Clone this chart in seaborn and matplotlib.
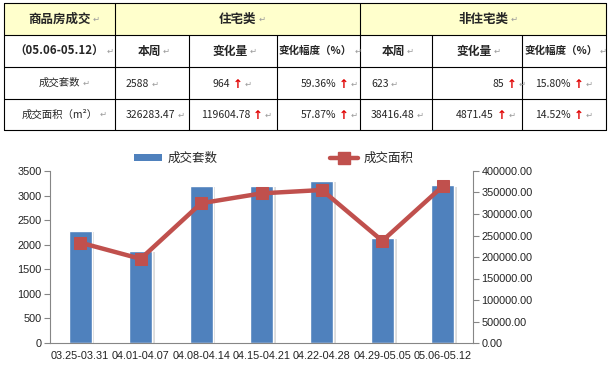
import numpy as np
import matplotlib
matplotlib.use("Agg")
from matplotlib import pyplot as plt
from matplotlib.lines import Line2D
from matplotlib.patches import Patch, Rectangle
import matplotlib.patheffects as pe
import seaborn as sns

# chart data
weeks = ["03.25-03.31", "04.01-04.07", "04.08-04.14", "04.15-04.21",
         "04.22-04.28", "04.29-05.05", "05.06-05.12"]
units = [2280, 1875, 3195, 3195, 3295, 2145, 3211]
area = [233500, 195700, 325000, 348000, 355800, 237500, 364700]

# table data
title_cell = "商品房成交"
period_cell = "（05.06-05.12）"
groups = ["住宅类", "非住宅类"]
col_headers = ["本周", "变化量", "变化幅度（%）"]
row_labels = ["成交套数", "成交面积（m²）"]
table_vals = [["2588", "964", "59.36%", "623", "85", "15.80%"],
              ["326283.47", "119604.78", "57.87%", "38416.48", "4871.45", "14.52%"]]
up_cols = [1, 2, 4, 5]

sns.set_style("white")
cjk = ["Noto Sans CJK SC", "DejaVu Sans"]
plt.rcParams["font.family"] = cjk

fig = plt.figure(figsize=(6.1, 3.66), dpi=100)

# ---- table (drawn in pixel space) ----
tax = fig.add_axes([0, 0, 1, 1])
tax.set_xlim(0, 610)
tax.set_ylim(366, 0)
tax.axis("off")

xs = [4, 115, 189, 277, 360, 432, 522, 606]
ys = [3, 35, 67, 99, 130]
tax.add_patch(Rectangle((xs[0], ys[0]), xs[-1] - xs[0], ys[1] - ys[0],
                        facecolor="#FFFFCC", edgecolor="none"))
for y in ys:
    tax.plot([xs[0], xs[-1]], [y, y], color="black", lw=0.8)
for i, x in enumerate(xs):
    top = ys[0] if i in (0, 1, 4, 7) else ys[1]
    tax.plot([x, x], [top, ys[-1]], color="black", lw=0.8)

mark_col = "#9a9a9a"


def put(x, y, s, size=7.5, weight="normal", ha="center", mark=True, arrow=False):
    t = tax.text(x, y, s, ha=ha, va="center", fontsize=size,
                 fontweight=weight, family=cjk)
    last = t
    if arrow:
        last = tax.annotate("↑", xy=(1, 0.5), xycoords=t, xytext=(2, 0),
                            textcoords="offset points", va="center", ha="left",
                            fontsize=size + 1, fontweight="bold", color="#E00000",
                            family=["DejaVu Sans"])
    if mark:
        tax.annotate("↵", xy=(1, 0.5), xycoords=last, xytext=(1.5, 0),
                     textcoords="offset points", va="center", ha="left",
                     fontsize=6, color=mark_col, family=["DejaVu Sans"])
    return t


ymid = [(ys[i] + ys[i + 1]) / 2 for i in range(4)]
put((xs[0] + xs[1]) / 2, ymid[0], title_cell, size=9, weight="bold")
put((xs[1] + xs[4]) / 2, ymid[0], groups[0], size=9, weight="bold")
put((xs[4] + xs[7]) / 2, ymid[0], groups[1], size=9, weight="bold")
put((xs[0] + xs[1]) / 2, ymid[1], period_cell, size=8.3, weight="bold")
for g in range(2):
    for j, h in enumerate(col_headers):
        c = g * 3 + j + 1
        sz = 7.6 if j == 2 else 8.5
        put((xs[c] + xs[c + 1]) / 2 - 3, ymid[1], h, size=sz, weight="bold")

# right edge of numbers followed by an arrow, per row
arrow_right = [{1: 230, 2: 336, 4: 504, 5: 571},
               {1: 250, 2: 336, 4: 494, 5: 571}]
for r, lab in enumerate(row_labels):
    put((xs[0] + xs[1]) / 2, ymid[r + 2], lab, size=7.5)
    for c, v in enumerate(table_vals[r]):
        if c in up_cols:
            put(arrow_right[r][c], ymid[r + 2] + 1, v, ha="right", arrow=True)
        else:
            put(xs[c + 1] + 11, ymid[r + 2] + 1, v, ha="left")

# ---- combo chart ----
bar_col = "#4F81BD"
line_col = "#C0504D"
axis_col = "#868686"
tick_font = ["Liberation Sans", "DejaVu Sans"]

ax = fig.add_axes([50 / 610, 23 / 366, 423 / 610, 172 / 366])
sns.barplot(x=weeks, y=units, color=bar_col, saturation=1, width=0.38, ax=ax)
for p in ax.patches:
    p.set_path_effects([pe.SimplePatchShadow(offset=(2, -1), shadow_rgbFace="#BBBBBB", alpha=0.5),
                        pe.Normal()])
ax.set_ylim(0, 3500)
ax.set_xlim(-0.5, len(weeks) - 0.5)
ax.set_yticks(np.arange(0, 3501, 500))
ax.set_xticks(range(len(weeks)))
ax.set_xticklabels(weeks)
ax.set_xticks(np.arange(-0.5, len(weeks), 1), minor=True)
ax.tick_params(axis="x", which="major", length=0, pad=6)
ax.tick_params(axis="x", which="minor", length=4, color=axis_col, direction="out")
ax.tick_params(axis="y", length=4, color=axis_col, direction="out", pad=2)
ax.set_xlabel("")
ax.set_ylabel("")

ax2 = ax.twinx()
sns.lineplot(x=list(range(len(weeks))), y=area, color=line_col, lw=3.2,
             marker="s", markersize=9, markeredgecolor=line_col, ax=ax2)
ax2.set_ylim(0, 400000)
ax2.set_yticks(np.arange(0, 400001, 50000))
ax2.set_yticklabels([f"{v:.2f}" for v in np.arange(0, 400001, 50000)])
ax2.tick_params(axis="y", length=4, color=axis_col, direction="out", pad=2)
ax2.set_xlim(-0.5, len(weeks) - 0.5)

for a in (ax, ax2):
    a.spines["top"].set_visible(False)
    for s in ("left", "right", "bottom"):
        a.spines[s].set_color(axis_col)
        a.spines[s].set_linewidth(0.8)
    for lab in a.get_xticklabels() + a.get_yticklabels():
        lab.set_family(tick_font)
        lab.set_fontsize(7.8)
        lab.set_color("#222222")
ax.spines["right"].set_visible(False)
ax2.spines["left"].set_visible(False)
ax2.spines["bottom"].set_visible(False)

handles = [Patch(facecolor=bar_col, edgecolor="none"),
           Line2D([], [], color=line_col, lw=3.2, marker="s", markersize=9)]
fig.legend(handles, ["成交套数", "成交面积"], loc="center", ncol=2,
           bbox_to_anchor=(274 / 610, 1 - 158 / 366), frameon=False,
           handlelength=2.2, handleheight=0.5, columnspacing=9,
           handletextpad=0.5, prop={"family": cjk, "size": 9})

fig.savefig("out.png", dpi=100)
